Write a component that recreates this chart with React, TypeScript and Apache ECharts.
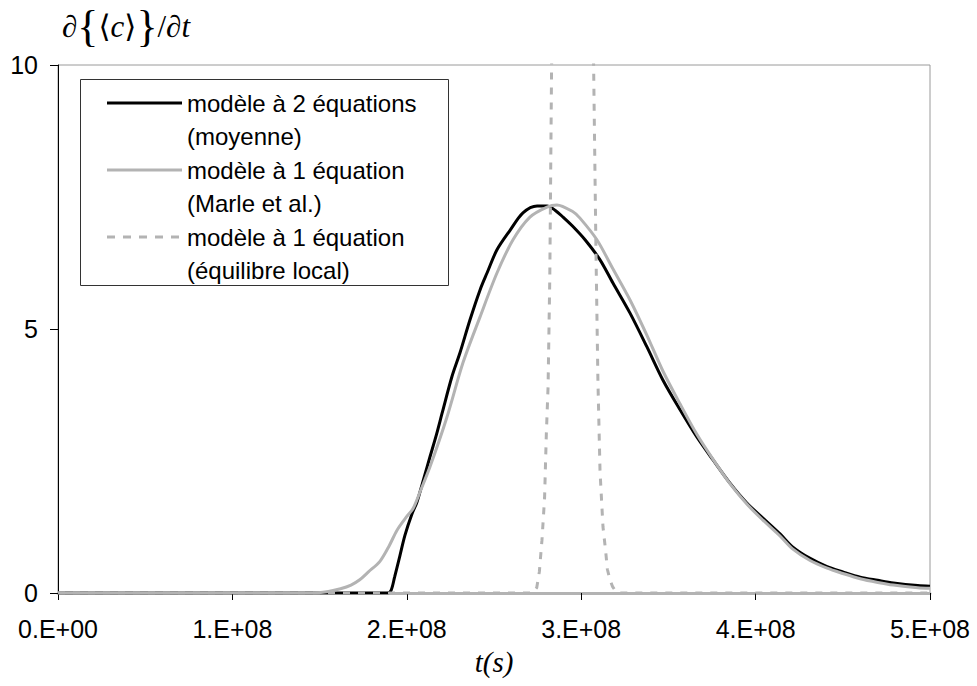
import React, { useEffect, useRef } from "react";
import * as echarts from "echarts";

const xTickLabels = ["0.E+00", "1.E+08", "2.E+08", "3.E+08", "4.E+08", "5.E+08"];
const yTickValues = [0, 5, 10];

const seriesNames = [
  "modèle à 2 équations\n(moyenne)",
  "modèle à 1 équation\n(Marle et al.)",
  "modèle à 1 équation\n(équilibre local)",
];

// time in units of 1e8 s
const tMoyenne = [0, 1.89, 1.91, 1.93, 1.96, 1.99, 2.03, 2.058, 2.1, 2.133, 2.17, 2.202, 2.259, 2.305, 2.362, 2.42, 2.46, 2.517, 2.592, 2.666, 2.747, 2.804, 2.85, 2.896, 2.95, 3.022, 3.108, 3.182, 3.28, 3.377, 3.469, 3.567, 3.664, 3.756, 3.853, 3.951, 4.042, 4.14, 4.21, 4.31, 4.41, 4.5, 4.6, 4.7, 4.79, 4.93, 5.0];
const vMoyenne = [0, 0, 0.05, 0.3, 0.7, 1.1, 1.5, 1.72, 2.2, 2.58, 3.0, 3.4, 4.1, 4.55, 5.17, 5.74, 6.06, 6.5, 6.87, 7.2, 7.33, 7.33, 7.25, 7.12, 6.95, 6.69, 6.31, 5.87, 5.3, 4.66, 4.03, 3.47, 2.95, 2.52, 2.08, 1.7, 1.42, 1.12, 0.88, 0.66, 0.5, 0.4, 0.3, 0.24, 0.19, 0.14, 0.13];

const tMarle = [0, 1.45, 1.55, 1.62, 1.68, 1.73, 1.78, 1.846, 1.9, 1.944, 2.0, 2.036, 2.08, 2.133, 2.23, 2.322, 2.42, 2.517, 2.609, 2.706, 2.804, 2.861, 2.953, 2.993, 3.09, 3.18, 3.28, 3.377, 3.469, 3.567, 3.664, 3.756, 3.853, 3.951, 4.042, 4.14, 4.21, 4.31, 4.41, 4.5, 4.6, 4.7, 4.79, 4.93, 5.0];
const vMarle = [0, 0, 0.03, 0.08, 0.15, 0.25, 0.4, 0.6, 0.9, 1.19, 1.45, 1.6, 1.95, 2.39, 3.33, 4.36, 5.23, 6.06, 6.69, 7.12, 7.31, 7.35, 7.22, 7.1, 6.69, 6.15, 5.55, 4.88, 4.2, 3.58, 3.0, 2.53, 2.07, 1.68, 1.38, 1.08, 0.84, 0.62, 0.47, 0.37, 0.27, 0.2, 0.15, 0.1, 0.09];

const tLocal = [0, 2.72, 2.745, 2.76, 2.775, 2.79, 2.8, 2.81, 2.82, 2.83, 2.84, 2.95, 3.06, 3.07, 3.075, 3.085, 3.096, 3.108, 3.125, 3.14, 3.15, 3.165, 3.18, 3.2, 3.21, 5.0];
const vLocal = [0, 0, 0.1, 0.4, 1.0, 1.8, 3.0, 3.9, 6.0, 9.9, 12, 20, 12, 10.3, 9.0, 6.4, 4.0, 2.3, 1.25, 0.8, 0.45, 0.25, 0.12, 0.02, 0, 0];

const BLACK = "#000000";
const GRAY = "#b3b3b3";
const FONT = "'Liberation Sans', Arial, sans-serif";
const SERIF = "'Liberation Serif', 'Times New Roman', 'DejaVu Serif', serif";

const zip = (t: number[], v: number[]) => t.map((x, i) => [x * 1e8, v[i]]);

export default function App() {
  const ref = useRef<HTMLDivElement>(null);
  useEffect(() => {
    if (!ref.current) return;
    const chart = echarts.init(ref.current, null, { renderer: "svg" });
    const legendX = 80;
    const legendY = 79;
    const rowH = 33.5;
    const lineStyles = [
      { stroke: BLACK, lineWidth: 3, lineDash: null as any },
      { stroke: GRAY, lineWidth: 3, lineDash: null as any },
      { stroke: GRAY, lineWidth: 3, lineDash: [8, 8] },
    ];
    const legendEls: any[] = [
      {
        type: "rect",
        shape: { x: legendX + 0.5, y: legendY + 0.5, width: 368, height: 206 },
        style: { fill: "#ffffff", stroke: "#333333", lineWidth: 1 },
        z: 10,
      },
    ];
    seriesNames.forEach((name, i) => {
      const lines = name.split("\n");
      const y1 = legendY + 24 + i * 2 * rowH;
      legendEls.push({
        type: "line",
        shape: { x1: 107, y1, x2: 182, y2: y1 },
        style: { stroke: lineStyles[i].stroke, lineWidth: lineStyles[i].lineWidth, lineDash: lineStyles[i].lineDash },
        z: 11,
      });
      lines.forEach((ln, j) => {
        legendEls.push({
          type: "text",
          x: 187,
          y: y1 + j * rowH,
          style: { text: ln, font: `24px ${FONT}`, fill: "#000", textVerticalAlign: "middle", textAlign: "left" },
          z: 11,
        });
      });
    });

    chart.setOption({
      animation: false,
      backgroundColor: "#ffffff",
      grid: {
        left: 58,
        right: 47,
        top: 65,
        bottom: 93,
        show: true,
        borderColor: "#9a9a9a",
        borderWidth: 1,
        backgroundColor: "transparent",
      },
      xAxis: {
        type: "value",
        min: 0,
        max: 5e8,
        interval: 1e8,
        name: "t(s)",
        nameLocation: "middle",
        nameGap: 54,
        nameTextStyle: { fontFamily: SERIF, fontStyle: "italic", fontSize: 29, color: "#000" },
        axisLine: { show: true, onZero: false, lineStyle: { color: GRAY, width: 3 } },
        axisTick: { show: true, inside: false, length: 7, lineStyle: { color: BLACK, width: 1 } },
        splitLine: { show: false },
        axisLabel: {
          margin: 23,
          fontFamily: FONT,
          fontSize: 25,
          color: "#000",
          formatter: (v: number) => xTickLabels[Math.round(v / 1e8)] ?? "",
        },
      },
      yAxis: {
        type: "value",
        min: 0,
        max: 10,
        interval: 5,
        axisLine: { show: true, lineStyle: { color: BLACK, width: 1 } },
        axisTick: { show: true, inside: false, length: 8, lineStyle: { color: BLACK, width: 1 } },
        splitLine: { show: false },
        axisLabel: {
          margin: 20,
          fontFamily: FONT,
          fontSize: 25,
          color: "#000",
          formatter: (v: number) => (yTickValues.includes(v) ? String(v) : ""),
        },
      },
      series: [
        {
          name: seriesNames[0],
          type: "line",
          data: zip(tMoyenne, vMoyenne),
          showSymbol: false,
          symbol: "none",
          smooth: 0.3,
          clip: true,
          lineStyle: { color: BLACK, width: 3 },
          z: 2,
        },
        {
          name: seriesNames[1],
          type: "line",
          data: zip(tMarle, vMarle),
          showSymbol: false,
          symbol: "none",
          smooth: 0.3,
          clip: true,
          lineStyle: { color: GRAY, width: 3 },
          z: 3,
        },
        {
          name: seriesNames[2],
          type: "line",
          data: zip(tLocal, vLocal),
          showSymbol: false,
          symbol: "none",
          clip: true,
          lineStyle: { color: GRAY, width: 3, type: [7, 8] },
          z: 4,
        },
      ],
      graphic: [
        {
          type: "text",
          left: 62,
          top: 4,
          style: {
            text: "{n|∂}{{n|⟨}{i|c}{n|⟩}}{n|/∂}{i|t}",
            fontFamily: SERIF,
            fontSize: 44,
            fill: "#000",
            rich: {
              n: { fontFamily: SERIF, fontSize: 31, fill: "#000" },
              i: { fontFamily: SERIF, fontSize: 31, fontStyle: "italic", fill: "#000" },
            },
          },
        },
        ...legendEls,
      ],
    });
    return () => chart.dispose();
  }, []);
  return <div ref={ref} style={{ width: 977, height: 686, position: "absolute", left: 0, top: 0 }} />;
}
